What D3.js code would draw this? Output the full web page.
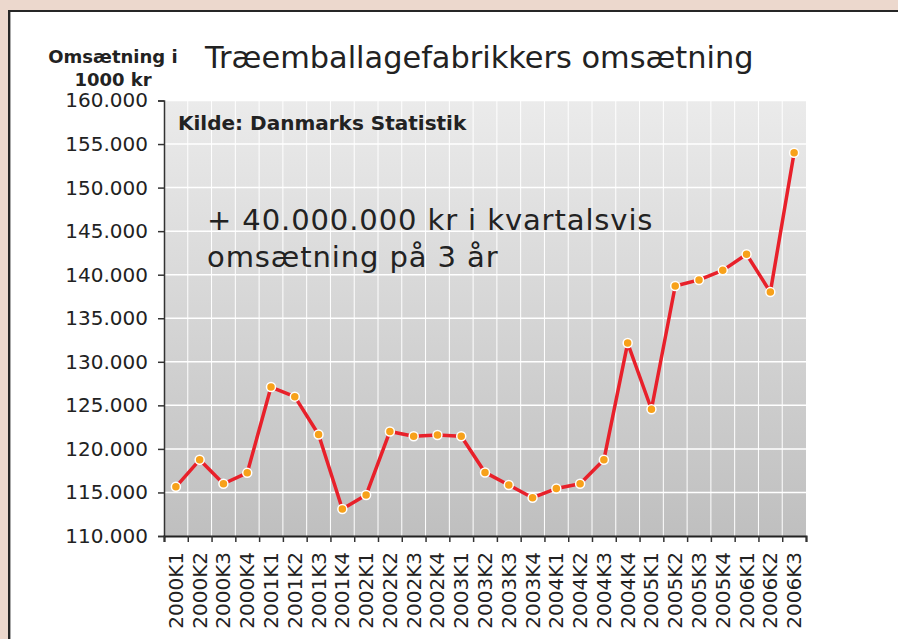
<!DOCTYPE html>
<html>
<head>
<meta charset="utf-8">
<script src="https://cdn.jsdelivr.net/npm/d3@7"></script>
<style>
  body { margin: 0; background: #ecd8cd; }
  svg { display: block; font-family: "DejaVu Sans", Verdana, sans-serif; }
</style>
</head>
<body>
<svg id="chart" width="898" height="639"></svg>
<script>
// quarters
const quarters = ["2000K1","2000K2","2000K3","2000K4","2001K1","2001K2","2001K3","2001K4",
  "2002K1","2002K2","2002K3","2002K4","2003K1","2003K2","2003K3","2003K4",
  "2004K1","2004K2","2004K3","2004K4","2005K1","2005K2","2005K3","2005K4",
  "2006K1","2006K2","2006K3"];

// turnover in 1000 kr
const turnover = [115650, 118750, 116000, 117250, 127100, 126000, 121650, 113100,
  114700, 122000, 121450, 121600, 121450, 117300, 115850, 114400,
  115450, 116000, 118750, 132150, 124550, 138700, 139400, 140500,
  142350, 138000, 154000];

const yTicks = [110000, 115000, 120000, 125000, 130000, 135000, 140000, 145000, 150000, 155000, 160000];

const svg = d3.select("#chart");

// white panel with dark frame
svg.append("rect")
  .attr("x", 9).attr("y", 11)
  .attr("width", 1000).attr("height", 1000)
  .attr("fill", "#fff")
  .attr("stroke", "#262626")
  .attr("stroke-width", 2);
svg.append("line") // light shadow inside the frame
  .attr("x1", 10.5).attr("x2", 10.5).attr("y1", 12).attr("y2", 639)
  .attr("stroke", "#aaa").attr("stroke-width", 1);

const plotL = 164, plotR = 806, plotT = 100.5, plotB = 536;

const x = d3.scaleBand().domain(quarters).range([plotL, plotR]).padding(0);
const xEdge = d3.scaleLinear().domain([0, quarters.length]).range([plotL, plotR]);
const y = d3.scaleLinear().domain([110000, 160000]).range([plotB, plotT]);

// background gradient
const defs = svg.append("defs");
const grad = defs.append("linearGradient")
  .attr("id", "bg").attr("x1", 0).attr("y1", 0).attr("x2", 0).attr("y2", 1);
grad.append("stop").attr("offset", "0%").attr("stop-color", "#ebebeb");
grad.append("stop").attr("offset", "100%").attr("stop-color", "#bfbfbf");

svg.append("rect")
  .attr("x", plotL).attr("y", plotT)
  .attr("width", plotR - plotL).attr("height", plotB - plotT)
  .attr("fill", "url(#bg)");

// grid
const grid = svg.append("g");
grid.selectAll("line.h")
  .data(yTicks.slice(1))
  .join("line")
  .attr("x1", plotL).attr("x2", plotR)
  .attr("y1", d => y(d)).attr("y2", d => y(d))
  .attr("stroke", "#fff").attr("stroke-width", 1.5);
grid.selectAll("line.v")
  .data(d3.range(1, quarters.length))
  .join("line")
  .attr("x1", d => xEdge(d)).attr("x2", d => xEdge(d))
  .attr("y1", plotT).attr("y2", plotB)
  .attr("stroke", "#fff").attr("stroke-width", 1);

// y axis
const yAxis = svg.append("g")
  .attr("transform", `translate(${plotL},0)`)
  .call(d3.axisLeft(y).tickValues(yTicks).tickSize(6).tickPadding(10)
    .tickFormat(d => d3.format(",")(d).replace(/,/g, ".")))
  .attr("font-family", null).attr("font-size", 20);
yAxis.selectAll("text").attr("fill", "#222");
yAxis.selectAll("path, line").attr("stroke", "#333").attr("stroke-width", 1.5);

// x axis ticks at quarter edges
const xTicks = svg.append("g")
  .attr("transform", `translate(0,${plotB})`)
  .call(d3.axisBottom(xEdge).tickValues(d3.range(quarters.length + 1)).tickSize(6).tickFormat(""));
xTicks.select(".domain").attr("stroke", "#222").attr("stroke-width", 2);
xTicks.selectAll("line").attr("stroke", "#333").attr("stroke-width", 1.5);

// x labels at band centres
const xLabels = svg.append("g")
  .attr("transform", `translate(0,${plotB})`)
  .call(d3.axisBottom(x).tickSize(0).tickPadding(0))
  .attr("font-family", null).attr("font-size", 20);
xLabels.select(".domain").remove();
xLabels.selectAll("text")
  .attr("fill", "#222")
  .attr("text-anchor", "end")
  .attr("transform", "rotate(-90)")
  .attr("x", -16).attr("y", 0).attr("dy", "0.35em");

// series
const line = d3.line()
  .x((d, i) => x(quarters[i]) + x.bandwidth() / 2)
  .y(d => y(d));

svg.append("path")
  .datum(turnover)
  .attr("d", line)
  .attr("fill", "none")
  .attr("stroke", "#e8202a")
  .attr("stroke-width", 3.5)
  .attr("stroke-linejoin", "round");

svg.selectAll("circle.pt")
  .data(turnover)
  .join("circle")
  .attr("cx", (d, i) => x(quarters[i]) + x.bandwidth() / 2)
  .attr("cy", d => y(d))
  .attr("r", 4.5)
  .attr("fill", "#f7a11a")
  .attr("stroke", "#fff")
  .attr("stroke-width", 1.5);

// texts
svg.append("text")
  .attr("x", 205).attr("y", 68)
  .attr("font-size", 30.4).attr("fill", "#222")
  .text("Træemballagefabrikkers omsætning");

svg.append("text")
  .attr("x", 113).attr("y", 63)
  .attr("text-anchor", "middle")
  .attr("font-size", 18).attr("font-weight", "bold").attr("fill", "#222")
  .text("Omsætning i");
svg.append("text")
  .attr("x", 113).attr("y", 86)
  .attr("text-anchor", "middle")
  .attr("font-size", 18).attr("font-weight", "bold").attr("fill", "#222")
  .text("1000 kr");

svg.append("text")
  .attr("x", 178).attr("y", 130)
  .attr("font-size", 20).attr("font-weight", "bold").attr("fill", "#222")
  .text("Kilde: Danmarks Statistik");

svg.append("text")
  .attr("x", 207).attr("y", 230)
  .attr("font-size", 29).attr("letter-spacing", 0.9).attr("fill", "#222")
  .text("+ 40.000.000 kr i kvartalsvis");
svg.append("text")
  .attr("x", 207).attr("y", 267)
  .attr("font-size", 29).attr("letter-spacing", 0.9).attr("fill", "#222")
  .text("omsætning på 3 år");
</script>
</body>
</html>
